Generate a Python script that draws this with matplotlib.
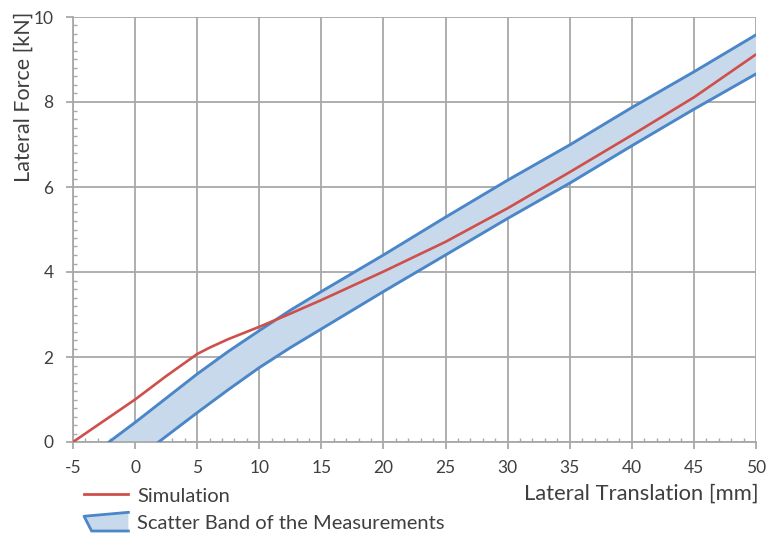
import numpy as np
import matplotlib
matplotlib.use('Agg')
import matplotlib.pyplot as plt
from matplotlib.ticker import MultipleLocator
from matplotlib.legend_handler import HandlerBase
from matplotlib.patches import Polygon, Patch
from matplotlib.lines import Line2D

plt.rcParams['font.family'] = ['Lato', 'DejaVu Sans']
plt.rcParams['axes.unicode_minus'] = False

# data (mm, kN)
sim_x = [-5, -2.5, 0, 2.5, 5, 6, 7.5, 10, 12.5, 15, 20, 25, 30, 35, 40, 45, 50]
sim_y = [0.0, 0.5, 1.0, 1.55, 2.07, 2.22, 2.42, 2.71, 3.02, 3.34, 4.01, 4.71,
         5.50, 6.35, 7.22, 8.11, 9.12]

upper_x = [-2.1, 0, 2.5, 5, 7.5, 10, 12.5, 15, 20, 25, 30, 35, 40, 45, 50]
upper_y = [0.0, 0.46, 1.03, 1.6, 2.13, 2.62, 3.1, 3.54, 4.40, 5.29, 6.16,
           6.99, 7.87, 8.71, 9.58]

lower_x = [1.9, 5, 7.5, 10, 12.5, 15, 20, 25, 30, 35, 40, 45, 50]
lower_y = [0.0, 0.69, 1.23, 1.75, 2.22, 2.66, 3.54, 4.40, 5.26, 6.09, 6.97,
           7.83, 8.66]

xlabel = 'Lateral Translation [mm]'
ylabel = 'Lateral Force [kN]'
sim_label = 'Simulation'
band_label = 'Scatter Band of the Measurements'

red = '#cf4f4a'
blue = '#4a86c8'
band_fill = '#c9d9ec'
grid_c = '#a8a8a8'
text_c = '#3f3f3f'


class BandHandler(HandlerBase):
    '''Legend key shaped like the slanted band patch.'''
    def create_artists(self, legend, orig_handle, xdescent, ydescent,
                       width, height, fontsize, trans):
        x0, y0 = -xdescent, -ydescent
        xs = [x0 + width, x0, x0 + 0.17*width, x0 + width]
        ys = [y0 + height, y0 + 0.79*height, y0, y0]
        fill = Polygon(np.column_stack([xs, ys]), closed=True,
                       facecolor=band_fill, edgecolor='none', transform=trans)
        edge = Line2D(xs, ys, color=blue, lw=2.0, transform=trans)
        return [fill, edge]


fig = plt.figure(figsize=(7.67, 5.38), dpi=100)
ax = fig.add_axes([73/767., 1 - 442/538., 683/767., 425/538.])

ax.fill(np.r_[upper_x, lower_x[::-1]], np.r_[upper_y, lower_y[::-1]],
        color=band_fill, lw=0, zorder=2)
ax.plot(upper_x, upper_y, color=blue, lw=2.1, zorder=3)
ax.plot(lower_x, lower_y, color=blue, lw=2.1, zorder=3)
ax.plot(sim_x, sim_y, color=red, lw=1.9, zorder=4)

ax.set_xlim(-5, 50)
ax.set_ylim(0, 10)
ax.xaxis.set_major_locator(MultipleLocator(5))
ax.xaxis.set_minor_locator(MultipleLocator(1))
ax.yaxis.set_major_locator(MultipleLocator(2))
ax.yaxis.set_minor_locator(MultipleLocator(0.2))

ax.grid(True, which='major', color=grid_c, lw=1.3, zorder=0)
ax.set_axisbelow(True)
for s in ['top', 'right']:
    ax.spines[s].set_visible(False)
for s in ['left', 'bottom']:
    ax.spines[s].set_color(grid_c)
    ax.spines[s].set_linewidth(1.3)

ax.tick_params(which='major', direction='out', length=5, width=1.3,
               color=grid_c, labelcolor=text_c, labelsize=12.5)
ax.tick_params(axis='x', which='major', pad=8)
ax.tick_params(axis='y', which='major', pad=9)
ax.tick_params(which='minor', direction='in', length=3, width=1.0,
               color=grid_c)

ax.set_xlabel(xlabel, fontsize=15.8, color=text_c, ha='right')
ax.xaxis.set_label_coords(1.004, -0.097)
ax.set_ylabel(ylabel, fontsize=15.5, color=text_c, ha='right')
ax.yaxis.set_label_coords(-0.058, 1.012)

handles = [Line2D([], [], color=red, lw=2.0),
           Patch(facecolor=band_fill, edgecolor=blue)]
fig.legend(handles, [sim_label, band_label], loc='upper left',
           bbox_to_anchor=(74/767., 1 - 476/538.), frameon=False,
           fontsize=14.5, labelcolor=text_c, handlelength=2.2,
           handleheight=1.05, handletextpad=0.45, labelspacing=0.35,
           borderpad=0, handler_map={Patch: BandHandler()})

fig.savefig('out.png', dpi=100)
